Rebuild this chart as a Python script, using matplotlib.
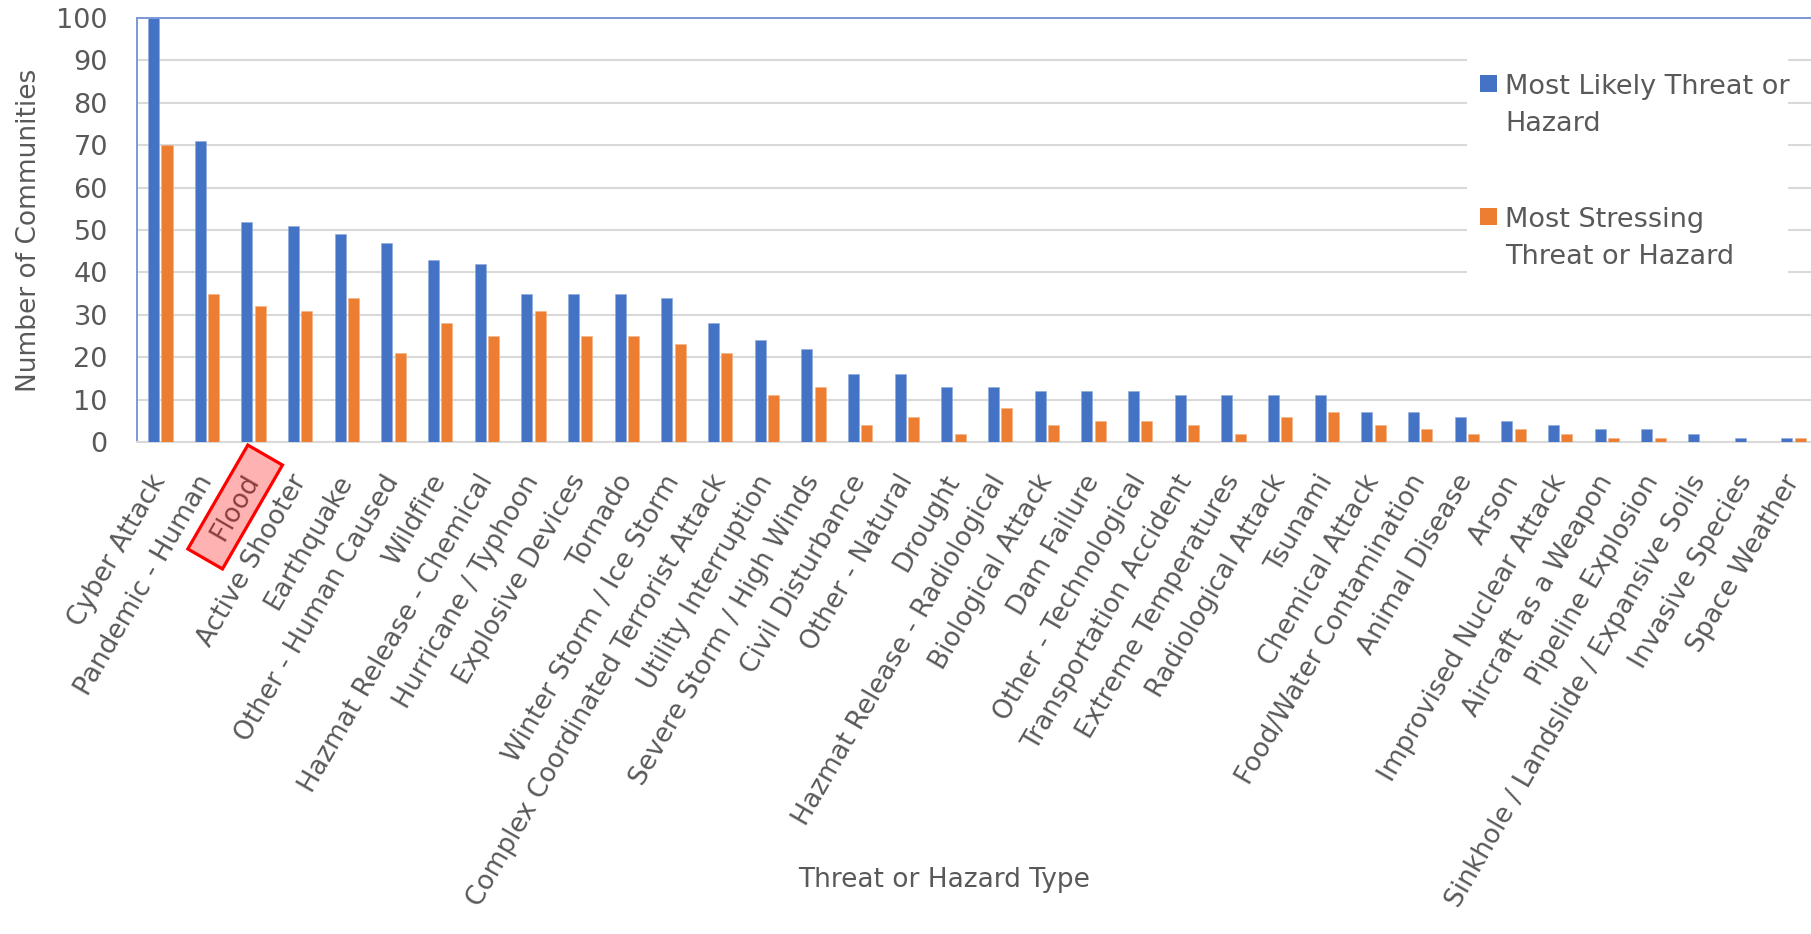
import matplotlib
matplotlib.use("Agg")
import matplotlib.pyplot as plt
import numpy as np
from matplotlib.patches import Polygon, Rectangle

categories = ["Cyber Attack", "Pandemic - Human", "Flood", "Active Shooter", "Earthquake",
              "Other - Human Caused", "Wildfire", "Hazmat Release - Chemical",
              "Hurricane / Typhoon", "Explosive Devices", "Tornado", "Winter Storm / Ice Storm",
              "Complex Coordinated Terrorist Attack", "Utility Interruption",
              "Severe Storm / High Winds", "Civil Disturbance", "Other - Natural", "Drought",
              "Hazmat Release - Radiological", "Biological Attack", "Dam Failure",
              "Other - Technological", "Transportation Accident", "Extreme Temperatures",
              "Radiological Attack", "Tsunami", "Chemical Attack", "Food/Water Contamination",
              "Animal Disease", "Arson", "Improvised Nuclear Attack", "Aircraft as a Weapon",
              "Pipeline Explosion", "Sinkhole / Landslide / Expansive Soils", "Invasive Species",
              "Space Weather"]
most_likely = [100, 71, 52, 51, 49, 47, 43, 42, 35, 35, 35, 34, 28, 24, 22, 16, 16, 13,
               13, 12, 12, 12, 11, 11, 11, 11, 7, 7, 6, 5, 4, 3, 3, 2, 1, 1]
most_stressing = [70, 35, 32, 31, 34, 21, 28, 25, 31, 25, 25, 23, 21, 11, 13, 4, 6, 2,
                  8, 4, 5, 5, 4, 2, 6, 7, 4, 3, 2, 3, 2, 1, 1, 0, 0, 1]
series_names = [["Most Likely Threat or", "Hazard"], ["Most Stressing", "Threat or Hazard"]]
highlight = "Flood"

W, H = 1811, 934
blue = "#4472C4"
orange = "#ED7D31"
grey = "#595959"

plt.rcParams["font.family"] = ["DejaVu Sans"]

fig = plt.figure(figsize=(W / 100, H / 100), dpi=100)
ax = fig.add_axes([137 / W, 1 - 442 / H, (W - 137) / W, (442 - 18) / H])

x = np.arange(len(categories))
bw = 0.236
ax.bar(x - 0.143, most_likely, bw, color=blue, edgecolor="#8faadc", linewidth=0.4, zorder=3)
ax.bar(x + 0.143, most_stressing, bw, color=orange, edgecolor="#f4b183", linewidth=0.4, zorder=3)

ax.set_xlim(-0.5, -0.5 + (W - 137) / 46.66)
ax.set_ylim(0, 100)
ax.set_yticks(range(0, 101, 10))
ax.yaxis.grid(True, color="#D9D9D9", linewidth=1.5, zorder=0)
ax.set_axisbelow(True)

ax.set_xticks(x)
ax.set_xticklabels(categories, rotation=60, ha="right", va="center",
                   rotation_mode="anchor", fontsize=19, color=grey)
ax.tick_params(axis="x", length=0, pad=25)
ax.tick_params(axis="y", length=0, pad=21, labelsize=19.5, labelcolor=grey)

for s in ["top", "left"]:
    ax.spines[s].set_color("#7a9ad6")
    ax.spines[s].set_linewidth(1.4)
ax.spines["bottom"].set_color("#D9D9D9")
ax.spines["bottom"].set_linewidth(1.5)
ax.spines["right"].set_visible(False)

fig.text(29 / W, 1 - 230 / H, "Number of Communities", rotation=90, ha="center",
         va="center", fontsize=19, color=grey)
fig.text(944 / W, 1 - 880 / H, "Threat or Hazard Type", ha="center", va="center",
         fontsize=19, color=grey)

# legend drawn by hand so the swatch sits on the first text line
def fx(px):
    return px / W

def fy(py):
    return 1 - py / H

fig.patches.append(Rectangle((fx(1467), fy(292)), fx(1788) - fx(1467), fy(45) - fy(292),
                             transform=fig.transFigure, facecolor="white", edgecolor="none",
                             zorder=5))
for lines, col, top in zip(series_names, [blue, orange], [75, 208]):
    fig.patches.append(Rectangle((fx(1480), fy(top + 17)), 17 / W, 17 / H,
                                 transform=fig.transFigure, facecolor=col,
                                 edgecolor="none", zorder=6))
    for k, line in enumerate(lines):
        fig.text(fx(1505), fy(top + 19 + 37 * k), line, ha="left", va="baseline",
                 fontsize=19.5, color=grey, zorder=6)

# red highlight box around the Flood label
i = categories.index(highlight)
tx = ax.transData.transform((i, 0))[0]
cx, cy = tx - 18.5, H - 507
a = np.radians(60)
u = np.array([np.cos(a), np.sin(a)])
v = np.array([np.sin(a), -np.cos(a)])
c = np.array([cx, cy])
pts = [c - 60 * u - 20 * v, c + 60 * u - 20 * v, c + 60 * u + 20 * v, c - 60 * u + 20 * v]
box = Polygon(pts, closed=True, transform=None, facecolor=(1, 0, 0, 0.3),
              edgecolor="#FF0000", linewidth=2.3, zorder=10)
fig.patches.append(box)

fig.savefig("out.png", dpi=100)
